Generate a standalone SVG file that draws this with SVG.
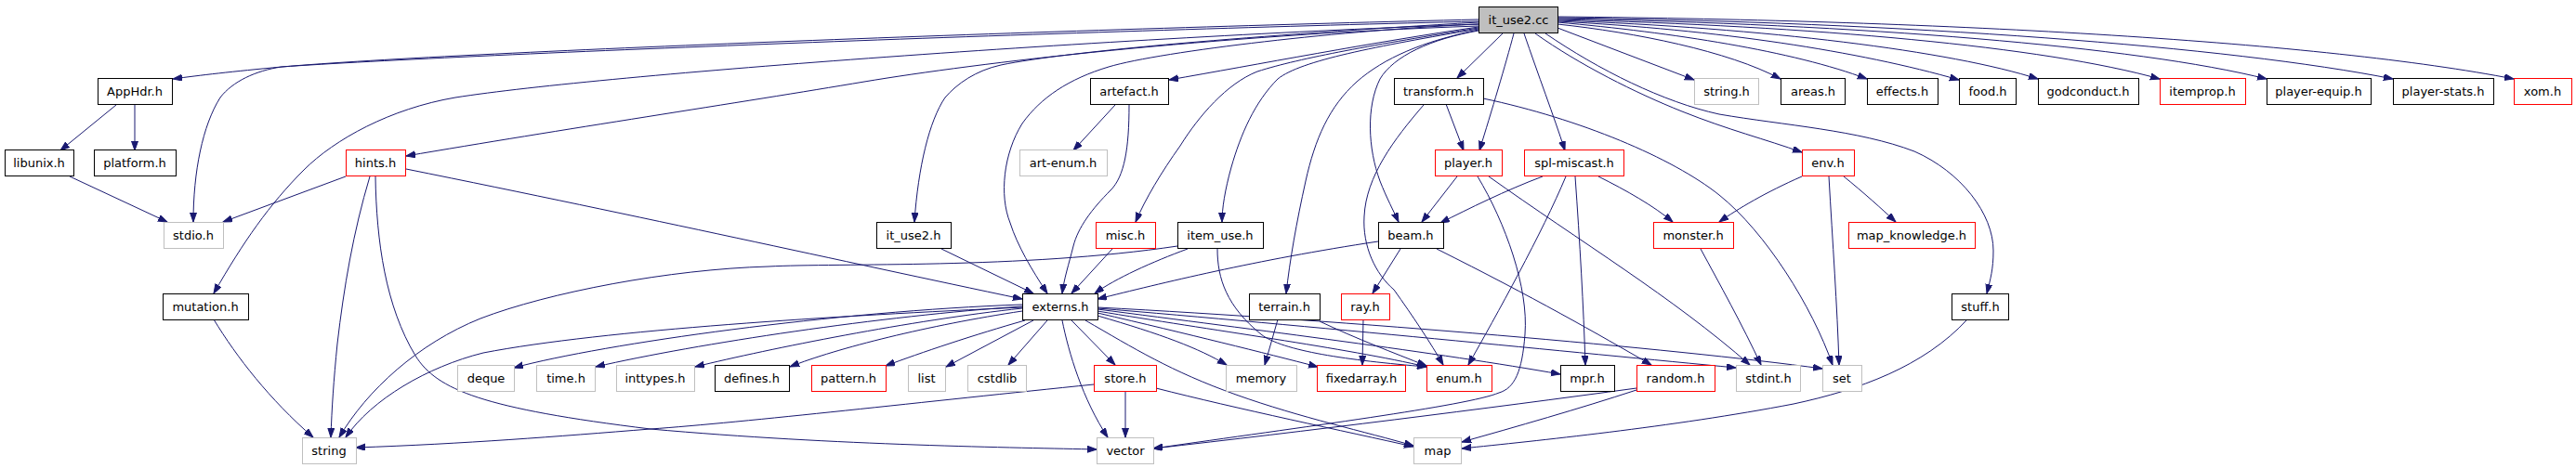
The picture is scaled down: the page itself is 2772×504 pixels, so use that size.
<svg xmlns="http://www.w3.org/2000/svg" width="2772" height="504" viewBox="0 0 2772 504">
<style>
.n rect{fill:#fff;stroke:#000;stroke-width:1}
.n.r rect{stroke:#ff0000}
.n.g rect{stroke:#bfbfbf}
.n.root rect{fill:#bfbfbf;stroke:#000}
.n text{font-family:"DejaVu Sans","Liberation Sans",sans-serif;font-size:13px;fill:#000;text-anchor:middle}
#edges path{fill:none;stroke:#191970;stroke-width:1;marker-end:url(#ah)}
</style>
<defs>
<marker id="ah" markerUnits="userSpaceOnUse" markerWidth="11" markerHeight="8" refX="10" refY="3.5" orient="auto" viewBox="0 0 11 8">
<path d="M0,0 L10,3.5 L0,7 z" fill="#191970" stroke="#191970" stroke-width="1"/>
</marker>
</defs>
<rect width="2772" height="504" fill="#fff"/>
<g id="edges">
<path d="M1591,21 C1200,30 500,55 303,72 C250,77 215,81 186,85"/>
<path d="M1591,23 C1200,32 500,58 303,72 C275,76 250,88 237,105 C218,135 208,185 208,239"/>
<path d="M1591,26 C1200,40 650,80 490,105 C420,117 360,150 327,183 C290,220 262,260 230,316"/>
<path d="M1591,28 C1300,38 1050,68 930,88 C800,110 600,140 437,168"/>
<path d="M1591,24 C1350,38 1150,55 1077,70 C1050,76 1030,90 1017,105 C1000,130 988,180 984,239"/>
<path d="M1591,26 C1450,32 1250,55 1193,72 C1150,85 1120,105 1100,133 C1080,165 1075,210 1087,240 C1095,265 1110,290 1127,316"/>
<path d="M1591,29 C1480,45 1350,70 1258,86"/>
<path d="M1591,30 C1480,48 1400,62 1353,77 C1320,90 1290,125 1270,157 C1250,185 1232,215 1222,239"/>
<path d="M1591,31 C1480,50 1400,65 1375,85 C1350,110 1335,145 1325,180 C1318,205 1315,225 1315,239"/>
<path d="M1591,32 C1530,45 1490,62 1460,88 C1430,115 1415,150 1405,195 C1395,240 1388,280 1384,316"/>
<path d="M1591,33 C1540,42 1500,60 1485,85 C1470,115 1472,160 1485,195 C1492,213 1500,228 1505,239"/>
<path d="M1617,36 L1568,84"/>
<path d="M1629,36 C1620,70 1605,120 1592,162"/>
<path d="M1640,36 C1655,80 1672,125 1684,162"/>
<path d="M1652,36 C1700,70 1760,100 1810,120 C1860,140 1900,150 1939,164"/>
<path d="M1663,36 C1720,75 1790,110 1850,123 C1920,135 2000,140 2060,163 C2110,185 2145,230 2145,270 C2145,290 2142,300 2138,316"/>
<path d="M1676,30 L1823,86"/>
<path d="M1676,26 C1760,35 1860,55 1916,85"/>
<path d="M1676,24 C1800,35 1930,55 2009,85"/>
<path d="M1676,23 C1850,32 2000,55 2108,86"/>
<path d="M1676,22 C1900,30 2100,55 2193,85"/>
<path d="M1676,21 C1950,28 2200,50 2324,85"/>
<path d="M1676,20 C2000,26 2300,50 2439,85"/>
<path d="M1676,19 C2050,24 2400,50 2575,85"/>
<path d="M1676,18 C2100,22 2500,45 2705,85"/>
<path d="M437,182 C700,235 900,280 1100,322"/>
<path d="M372,190 L240,239"/>
<path d="M398,190 C380,250 370,310 363,370 C359,410 357,440 356,471"/>
<path d="M404,190 C405,260 415,330 447,383 C470,420 520,440 700,462 C900,480 1100,482 1180,484"/>
<path d="M230,344 C255,385 290,430 337,471"/>
<path d="M1100,331 C900,340 650,355 520,380 C460,395 400,430 372,471"/>
<path d="M1267,265 C1100,290 900,283 827,287 C720,290 590,315 517,343 C450,370 395,420 365,471"/>
<path d="M1177,414 C1000,432 800,455 700,462 C600,470 500,478 383,482"/>
<path d="M1100,328 C900,335 650,370 553,396"/>
<path d="M1100,330 C950,340 750,370 641,395"/>
<path d="M1100,332 C980,345 830,375 748,395"/>
<path d="M1100,335 C1000,350 900,375 850,395"/>
<path d="M1103,345 C1050,360 990,380 953,394"/>
<path d="M1112,345 L1018,395"/>
<path d="M1127,345 L1085,393"/>
<path d="M1143,345 C1150,380 1165,430 1192,471"/>
<path d="M1153,345 L1200,393"/>
<path d="M1168,345 C1220,375 1260,400 1330,425 C1400,450 1470,465 1521,480"/>
<path d="M1181,340 C1250,360 1290,375 1320,393"/>
<path d="M1181,337 C1280,360 1360,380 1418,395"/>
<path d="M1181,335 C1300,355 1450,375 1535,395"/>
<path d="M1181,333 C1350,355 1550,380 1679,403"/>
<path d="M1181,332 C1400,350 1700,380 1868,396"/>
<path d="M1181,331 C1450,345 1800,375 1961,397"/>
<path d="M1483,260 C1350,280 1250,305 1181,322"/>
<path d="M1507,268 L1477,316"/>
<path d="M1546,268 C1650,320 1720,360 1777,393"/>
<path d="M1467,344 L1466,393"/>
<path d="M1375,344 L1361,393"/>
<path d="M1420,346 C1460,365 1500,380 1535,394"/>
<path d="M1278,268 C1240,282 1200,300 1178,316"/>
<path d="M1310,268 C1310,300 1320,330 1357,360 C1380,378 1450,388 1535,395"/>
<path d="M1197,268 L1153,316"/>
<path d="M1013,268 L1112,316"/>
<path d="M1200,113 L1155,162"/>
<path d="M1215,113 C1215,160 1210,190 1195,205 C1175,225 1160,245 1155,265 C1150,285 1145,300 1143,316"/>
<path d="M1556,112 L1575,162"/>
<path d="M1532,113 C1500,150 1470,190 1468,233 C1466,265 1480,295 1500,312 C1520,340 1540,370 1553,393"/>
<path d="M1596,106 C1700,128 1800,170 1850,210 C1900,250 1950,330 1972,393"/>
<path d="M1568,190 L1530,239"/>
<path d="M1590,190 C1620,240 1645,310 1641,360 C1638,400 1630,418 1613,423 C1580,437 1400,460 1241,483"/>
<path d="M1602,190 C1700,260 1800,320 1883,393"/>
<path d="M1660,190 C1620,205 1580,225 1550,240"/>
<path d="M1685,190 C1660,250 1610,340 1580,393"/>
<path d="M1695,190 C1700,260 1704,330 1706,393"/>
<path d="M1720,190 C1750,205 1780,222 1800,239"/>
<path d="M1830,268 C1850,305 1875,350 1895,393"/>
<path d="M1939,190 C1900,207 1870,225 1850,239"/>
<path d="M1968,190 C1972,260 1977,330 1979,393"/>
<path d="M1984,190 C2005,207 2025,225 2040,239"/>
<path d="M1761,418 C1600,440 1400,465 1241,483"/>
<path d="M1761,420 C1700,440 1630,460 1573,476"/>
<path d="M1211,421 L1211,471"/>
<path d="M1244,418 C1330,440 1450,465 1521,481"/>
<path d="M2117,344 C2070,395 2000,420 1930,435 C1800,460 1650,475 1573,483"/>
<path d="M125,113 L65,162"/>
<path d="M145,113 L145,162"/>
<path d="M75,190 L180,239"/>
</g>
<g id="n_it_use2_cc" class="n root"><rect x="1591.5" y="7.5" width="85" height="28"/><text x="1634" y="26">it_use2.cc</text></g>
<g id="n_AppHdr_h" class="n"><rect x="105.5" y="84.5" width="80" height="28"/><text x="145" y="103">AppHdr.h</text></g>
<g id="n_artefact_h" class="n"><rect x="1173.5" y="84.5" width="84" height="28"/><text x="1215" y="103">artefact.h</text></g>
<g id="n_transform_h" class="n"><rect x="1500.5" y="84.5" width="96" height="28"/><text x="1548" y="103">transform.h</text></g>
<g id="n_string_h" class="n g"><rect x="1823.5" y="84.5" width="69" height="28"/><text x="1858" y="103">string.h</text></g>
<g id="n_areas_h" class="n"><rect x="1916.5" y="84.5" width="69" height="28"/><text x="1951" y="103">areas.h</text></g>
<g id="n_effects_h" class="n"><rect x="2009.5" y="84.5" width="76" height="28"/><text x="2047" y="103">effects.h</text></g>
<g id="n_food_h" class="n"><rect x="2108.5" y="84.5" width="61" height="28"/><text x="2139" y="103">food.h</text></g>
<g id="n_godconduct_h" class="n"><rect x="2193.5" y="84.5" width="108" height="28"/><text x="2247" y="103">godconduct.h</text></g>
<g id="n_itemprop_h" class="n r"><rect x="2324.5" y="84.5" width="92" height="28"/><text x="2370" y="103">itemprop.h</text></g>
<g id="n_player_equip_h" class="n"><rect x="2439.5" y="84.5" width="112" height="28"/><text x="2495" y="103">player-equip.h</text></g>
<g id="n_player_stats_h" class="n"><rect x="2575.5" y="84.5" width="108" height="28"/><text x="2629" y="103">player-stats.h</text></g>
<g id="n_xom_h" class="n r"><rect x="2705.5" y="84.5" width="62" height="28"/><text x="2736" y="103">xom.h</text></g>
<g id="n_libunix_h" class="n"><rect x="5.5" y="161.5" width="74" height="28"/><text x="42" y="180">libunix.h</text></g>
<g id="n_platform_h" class="n"><rect x="101.5" y="161.5" width="88" height="28"/><text x="145" y="180">platform.h</text></g>
<g id="n_hints_h" class="n r"><rect x="372.5" y="161.5" width="64" height="28"/><text x="404" y="180">hints.h</text></g>
<g id="n_art_enum_h" class="n g"><rect x="1097.5" y="161.5" width="94" height="28"/><text x="1144" y="180">art-enum.h</text></g>
<g id="n_player_h" class="n r"><rect x="1544.5" y="161.5" width="72" height="28"/><text x="1580" y="180">player.h</text></g>
<g id="n_spl_miscast_h" class="n r"><rect x="1640.5" y="161.5" width="107" height="28"/><text x="1694" y="180">spl-miscast.h</text></g>
<g id="n_env_h" class="n r"><rect x="1939.5" y="161.5" width="56" height="28"/><text x="1967" y="180">env.h</text></g>
<g id="n_stdio_h" class="n g"><rect x="176.5" y="239.5" width="64" height="28"/><text x="208" y="258">stdio.h</text></g>
<g id="n_it_use2_h" class="n"><rect x="943.5" y="239.5" width="80" height="28"/><text x="983" y="258">it_use2.h</text></g>
<g id="n_misc_h" class="n r"><rect x="1179.5" y="239.5" width="64" height="28"/><text x="1211" y="258">misc.h</text></g>
<g id="n_item_use_h" class="n"><rect x="1267.5" y="239.5" width="92" height="28"/><text x="1313" y="258">item_use.h</text></g>
<g id="n_beam_h" class="n"><rect x="1483.5" y="239.5" width="70" height="28"/><text x="1518" y="258">beam.h</text></g>
<g id="n_monster_h" class="n r"><rect x="1779.5" y="239.5" width="86" height="28"/><text x="1822" y="258">monster.h</text></g>
<g id="n_map_knowledge_h" class="n r"><rect x="1989.5" y="239.5" width="136" height="28"/><text x="2057" y="258">map_knowledge.h</text></g>
<g id="n_mutation_h" class="n"><rect x="175.5" y="316.5" width="92" height="28"/><text x="221" y="335">mutation.h</text></g>
<g id="n_externs_h" class="n"><rect x="1100.5" y="316.5" width="81" height="28"/><text x="1141" y="335">externs.h</text></g>
<g id="n_terrain_h" class="n"><rect x="1344.5" y="316.5" width="76" height="28"/><text x="1382" y="335">terrain.h</text></g>
<g id="n_ray_h" class="n r"><rect x="1443.5" y="316.5" width="52" height="28"/><text x="1469" y="335">ray.h</text></g>
<g id="n_stuff_h" class="n"><rect x="2100.5" y="316.5" width="61" height="28"/><text x="2131" y="335">stuff.h</text></g>
<g id="n_deque" class="n g"><rect x="492.5" y="393.5" width="61" height="28"/><text x="523" y="412">deque</text></g>
<g id="n_time_h" class="n g"><rect x="577.5" y="393.5" width="63" height="28"/><text x="609" y="412">time.h</text></g>
<g id="n_inttypes_h" class="n g"><rect x="663.5" y="393.5" width="84" height="28"/><text x="705" y="412">inttypes.h</text></g>
<g id="n_defines_h" class="n"><rect x="769.5" y="393.5" width="80" height="28"/><text x="809" y="412">defines.h</text></g>
<g id="n_pattern_h" class="n r"><rect x="873.5" y="393.5" width="80" height="28"/><text x="913" y="412">pattern.h</text></g>
<g id="n_list" class="n g"><rect x="977.5" y="393.5" width="40" height="28"/><text x="997" y="412">list</text></g>
<g id="n_cstdlib" class="n g"><rect x="1041.5" y="393.5" width="63" height="28"/><text x="1073" y="412">cstdlib</text></g>
<g id="n_store_h" class="n r"><rect x="1177.5" y="393.5" width="67" height="28"/><text x="1211" y="412">store.h</text></g>
<g id="n_memory" class="n g"><rect x="1319.5" y="393.5" width="76" height="28"/><text x="1357" y="412">memory</text></g>
<g id="n_fixedarray_h" class="n r"><rect x="1417.5" y="393.5" width="95" height="28"/><text x="1465" y="412">fixedarray.h</text></g>
<g id="n_enum_h" class="n r"><rect x="1535.5" y="393.5" width="70" height="28"/><text x="1570" y="412">enum.h</text></g>
<g id="n_mpr_h" class="n"><rect x="1679.5" y="393.5" width="58" height="28"/><text x="1708" y="412">mpr.h</text></g>
<g id="n_random_h" class="n r"><rect x="1761.5" y="393.5" width="84" height="28"/><text x="1803" y="412">random.h</text></g>
<g id="n_stdint_h" class="n g"><rect x="1868.5" y="393.5" width="69" height="28"/><text x="1903" y="412">stdint.h</text></g>
<g id="n_set" class="n g"><rect x="1961.5" y="393.5" width="42" height="28"/><text x="1982" y="412">set</text></g>
<g id="n_string" class="n g"><rect x="325.5" y="471.5" width="58" height="28"/><text x="354" y="490">string</text></g>
<g id="n_vector" class="n g"><rect x="1180.5" y="471.5" width="61" height="28"/><text x="1211" y="490">vector</text></g>
<g id="n_map" class="n g"><rect x="1521.5" y="471.5" width="51" height="28"/><text x="1547" y="490">map</text></g>
</svg>
